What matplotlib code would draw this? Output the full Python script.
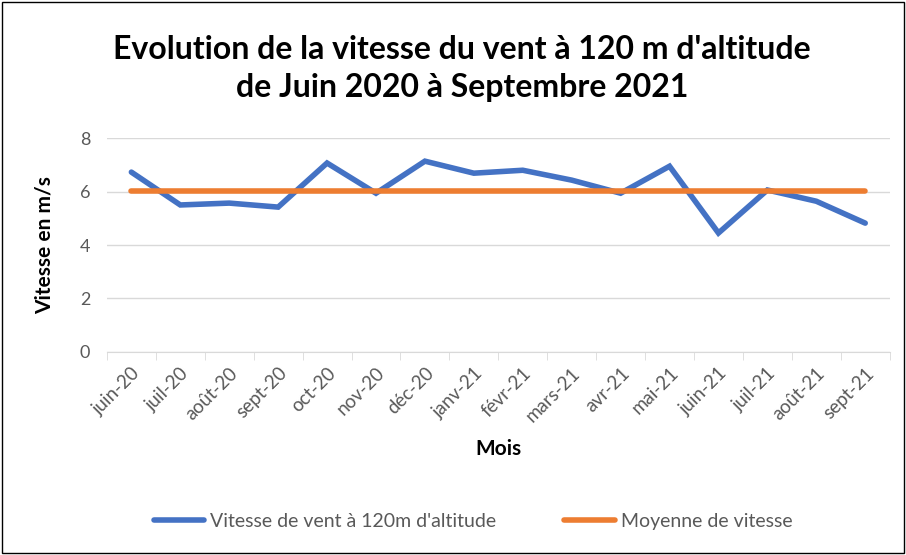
import matplotlib.pyplot as plt
import numpy as np
from matplotlib.patches import Rectangle

mois = ['juin-20', 'juil-20', 'août-20', 'sept-20', 'oct-20', 'nov-20', 'déc-20',
        'janv-21', 'févr-21', 'mars-21', 'avr-21', 'mai-21', 'juin-21', 'juil-21',
        'août-21', 'sept-21']
vitesse = [6.73, 5.50, 5.57, 5.42, 7.07, 5.94, 7.14, 6.69, 6.80, 6.43, 5.94, 6.95,
           4.45, 6.06, 5.64, 4.82]
moyenne = [6.04] * len(mois)

plt.rcParams['font.family'] = ['Lato', 'DejaVu Sans']

fig = plt.figure(figsize=(9.06, 5.55), dpi=100)
ax = fig.add_axes([0.118, 0.366, 0.864, 0.385])

x = np.arange(len(mois))
ax.plot(x, vitesse, color='#4472C4', lw=4, solid_capstyle='round', solid_joinstyle='miter',
        label="Vitesse de vent à 120m d'altitude")
ax.plot(x, moyenne, color='#ED7D31', lw=4, solid_capstyle='round',
        label='Moyenne de vitesse')

ax.set_ylim(0, 8)
ax.set_xlim(-0.5, len(mois) - 0.5)
ax.set_yticks([0, 2, 4, 6, 8])
ax.grid(axis='y', color='#d9d9d9', lw=1)
ax.set_axisbelow(True)
for s in ['top', 'right', 'left']:
    ax.spines[s].set_visible(False)
ax.spines['bottom'].set_color('#d9d9d9')
ax.tick_params(axis='y', length=0, labelsize=13, labelcolor='#595959', pad=12)

ax.set_xticks(x)
ax.set_xticklabels(mois, rotation=45, ha='right', rotation_mode='anchor',
                   fontsize=13.5, color='#595959')
ax.tick_params(axis='x', which='major', length=0, pad=9)
ax.set_xticks(np.arange(-0.5, len(mois)), minor=True)
ax.tick_params(axis='x', which='minor', length=6, color='#d9d9d9')

ax.set_xlabel('Mois', fontsize=15, fontweight='bold', labelpad=10)
ax.set_ylabel('Vitesse en m/s', fontsize=15, fontweight='bold', labelpad=18)

fig.text(0.51, 0.91, "Evolution de la vitesse du vent à 120 m d'altitude",
         ha='center', va='center', fontsize=23, fontweight='bold')
fig.text(0.51, 0.842, 'de Juin 2020 à Septembre 2021',
         ha='center', va='center', fontsize=23, fontweight='bold')

fig.legend(loc='center', bbox_to_anchor=(0.522, 0.06), ncol=2, frameon=False,
           fontsize=14, handlelength=2.6, handletextpad=0.3, columnspacing=3.5,
           labelcolor='#595959')

fig.patches.append(Rectangle((0.002, 0.003), 0.996, 0.994, transform=fig.transFigure,
                             fill=False, edgecolor='black', lw=1))

fig.savefig('out.png', dpi=100)
